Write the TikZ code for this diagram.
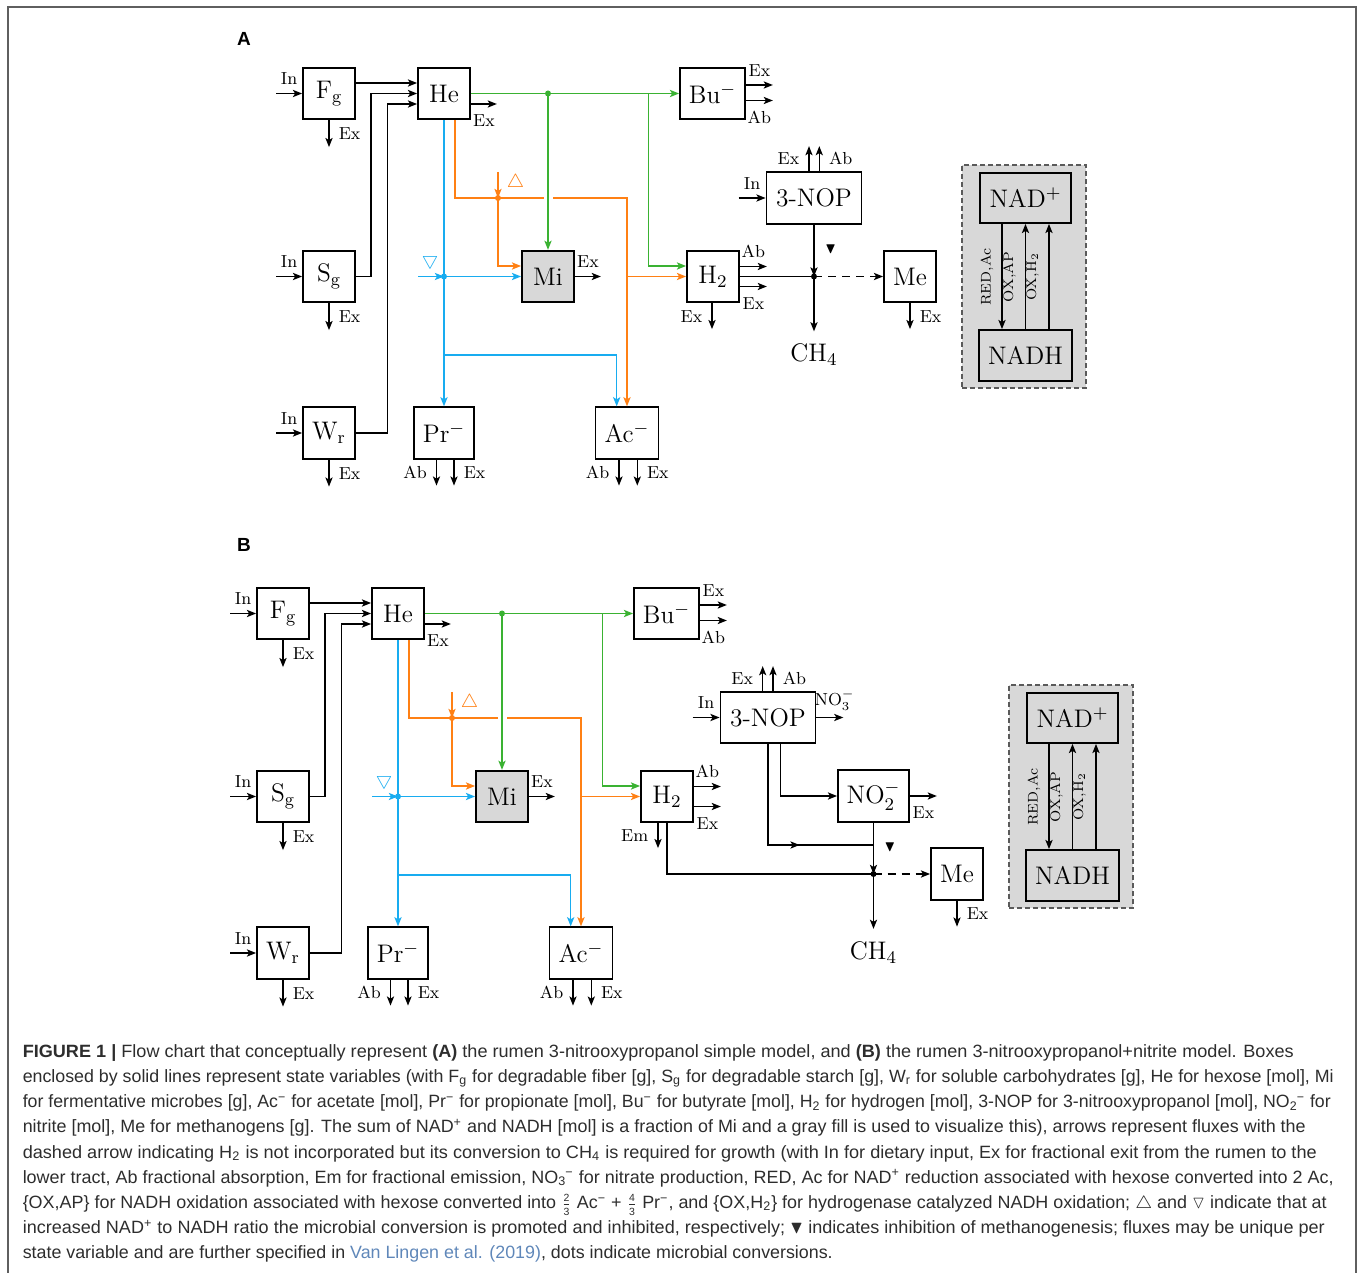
\RequirePackage{fix-cm}
\documentclass[tikz,border=0pt]{standalone}
\usepackage{graphicx}
\usepackage{amsmath,amssymb}
\usepackage{fontspec}
\newfontfamily\capfont{Liberation Sans}
\usetikzlibrary{arrows.meta,calc}
\definecolor{cgreen}{RGB}{58,178,50}
\definecolor{corange}{RGB}{255,128,20}
\definecolor{cblue}{RGB}{24,172,240}
\definecolor{cgray}{RGB}{216,216,216}
\definecolor{framegray}{RGB}{95,95,95}
\definecolor{dashgray}{RGB}{90,90,90}
\definecolor{captxt}{RGB}{45,45,45}
\definecolor{linkc}{RGB}{95,135,185}
\newcounter{labn}
\newlength\caplen
\newcommand\capfit[2]{\settowidth\caplen{#2}\pgfmathsetmacro\capsx{#1/\the\caplen}\scalebox{\capsx}[1]{#2}}
\newcommand\capss[2]{\textsubscript{#1}\kern-0.05em\textsuperscript{#2}}
\newcommand\capdig[1]{\text{\fontsize{5.2}{5.5}\selectfont #1}}
\newcommand\capfrac[2]{$\frac{\capdig{#1}}{\capdig{#2}}$}
\newcommand\capnode[4]{\node[capn] (cap#1) at (22,#2) {\capfit{#3}{#4}};}

\newcommand\leftpart[1]{%
\node[bx] (Fg#1) at (329,93.5) {F$_\mathrm{g}$};
\node[bx] (He#1) at (444,93.5) {He};
\node[bx,minimum width=32.5pt] (Bu#1) at (712.5,93.5) {Bu$^-$};
\node[bx] (Sg#1) at (329,276.5) {S$_\mathrm{g}$};
\node[bx,fill=cgray] (Mi#1) at (548,276.5) {Mi};
\node[bx] (H2#1) at (713,276.5) {H$_2$};
\node[bx] (Wr#1) at (329,433) {W$_\mathrm{r}$};
\node[bx,minimum width=30pt] (Pr#1) at (444,433) {Pr$^-$};
\node[bx,minimum width=31.5pt] (Ac#1) at (627,433) {Ac$^-$};
\draw[arr] ($(Fg#1.west)+(-26,0)$) -- node[lab,above=3.5pt]{In} (Fg#1.west);
\draw[arr] (Fg#1.south) -- node[lab,right=4pt]{Ex} ++(0,27);
\draw[arr] ($(Sg#1.west)+(-26,0)$) -- node[lab,above=3.5pt]{In} (Sg#1.west);
\draw[arr] (Sg#1.south) -- node[lab,right=4pt]{Ex} ++(0,27);
\draw[arr] ($(Wr#1.west)+(-26,0)$) -- node[lab,above=3.5pt]{In} (Wr#1.west);
\draw[arr] (Wr#1.south) -- node[lab,right=4pt]{Ex} ++(0,27);
\draw[arr] ([yshift=5.25pt]Fg#1.east) -- ([yshift=5.25pt]He#1.west);
\draw[arr] (Sg#1.east) -- ++(15,0) |- (He#1.west);
\draw[arr] (Wr#1.east) -- ++(31.5,0) |- ([yshift=-5.25pt]He#1.west);
\draw[arr] ([yshift=-5.25pt]He#1.east) -- node[lab,below=4.5pt]{Ex} ++(26,0);
\draw[arr] ([yshift=4.25pt]Bu#1.east) -- node[lab,above=3.5pt]{Ex} ++(27,0);
\draw[arr] ([yshift=-3.5pt]Bu#1.east) -- node[lab,below=4.5pt]{Ab} ++(27,0);
\draw[arr] (Mi#1.east) -- node[lab,above=3.5pt]{Ex} ++(26,0);
\draw[arr] ([yshift=5pt]H2#1.east) -- node[lab,above=3.5pt]{Ab} ++(27,0);
\draw[arr] ([yshift=-5pt]H2#1.east) -- node[lab,below=4.5pt]{Ex} ++(27,0);
\draw[arr] ([xshift=-3.75pt]Pr#1.south) -- node[lab,left=4pt]{Ab} ++(0,26);
\draw[arr] ([xshift=5pt]Pr#1.south) -- node[lab,right=4pt]{Ex} ++(0,26);
\draw[arr] ([xshift=-4pt]Ac#1.south) -- node[lab,left=4pt]{Ab} ++(0,26);
\draw[arr] ([xshift=5.15pt]Ac#1.south) -- node[lab,right=4pt]{Ex} ++(0,26);
\coordinate (gd#1) at (Mi#1.north |- He#1.east);
\coordinate (gb#1) at (648.5,93.5);
\coordinate (os#1) at ([xshift=5.5pt]He#1.south);
\coordinate (oc#1) at (627,198);
\coordinate (od#1) at (498,198);
\coordinate (xg#1) at (gd#1 |- oc#1);
\coordinate (bd#1) at (He#1.south |- Mi#1.west);
\coordinate (bb#1) at (444,355);
\draw[oarr] (os#1) |- (oc#1) -- (oc#1 |- Ac#1.north);
\draw[oarr] (od#1) |- ([yshift=5.25pt]Mi#1.west);
\draw[oarr] ([yshift=13pt]od#1) -- (od#1);
\draw[oarr] (oc#1 |- H2#1.west) -- (H2#1.west);
\node[otri] (tu#1) at (515.5,183) {$\triangle$};
\draw[barr] (He#1.south) -- (Pr#1.north);
\draw[barr] ([xshift=-13pt]bd#1) -- (bd#1);
\draw[barr] (bd#1) -- (Mi#1.west);
\draw[barr] (bb#1) -| ([xshift=-5.15pt]Ac#1.north);
\node[btri] (td#1) at (430,261) {$\bigtriangledown$};
\draw[white,line width=2.5pt] ($(xg#1)+(-4.5,0)$) -- ($(xg#1)+(4.5,0)$);
\draw[garr] (He#1.east) -- (Bu#1.west);
\draw[garr] (gd#1) -- (Mi#1.north);
\draw[garr] (gb#1) |- ([yshift=5.25pt]H2#1.west);
\fill[cgreen] (gd#1) circle[radius=1.5pt];
\fill[corange] (od#1) circle[radius=1.5pt];
\fill[cblue] (bd#1) circle[radius=1.5pt];
}

\newcommand\nadpanel[1]{%
\node[nadbg,minimum width=62pt,minimum height=111.5pt] (P#1) at (1024,276.5) {};
\node[bx,fill=cgray,minimum width=45.5pt,minimum height=25pt] (NP#1) at (1025.5,198) {NAD$^+$};
\node[bx,fill=cgray,minimum width=46.5pt,minimum height=25.5pt] (NH#1) at (1025.5,355.5) {NADH};
\coordinate (a1#1) at ([xshift=-11.75pt]NP#1.south);
\coordinate (a3#1) at ([xshift=11.75pt]NH#1.north);
\draw[arr] (a1#1) -- (a1#1 |- NH#1.north);
\draw[arr] (NH#1.north) -- (NP#1.south);
\draw[arr] (a3#1) -- (a3#1 |- NP#1.south);
\node[rot] (r1#1) at (987,277) {RED,Ac};
\node[rot] (r2#1) at (1009.5,277) {OX,AP};
\node[rot] (r3#1) at (1032.5,277) {OX,H$_2$};
}

\begin{document}
\begin{tikzpicture}[x=0.5pt,y=-0.5pt,
  >={Stealth[length=4.6pt,width=3.6pt,inset=1.1pt]},
  line width=0.75pt,
  bx/.style={draw,line width=0.9pt,inner sep=0pt,minimum width=26pt,minimum height=25.75pt,font=\fontsize{12.7}{15}\selectfont},
  big/.style={inner sep=0.5pt,font=\fontsize{12.7}{15}\selectfont},
  arr/.style={->},
  dsh/.style={->,dash pattern=on 4pt off 3pt},
  oarr/.style={->,draw=corange},
  barr/.style={->,draw=cblue},
  garr/.style={->,draw=cgreen},
  lab/.style={font=\fontsize{8.7}{10}\selectfont,inner sep=0.5pt,/utils/exec={\stepcounter{labn}},name=lab\arabic{labn}},
  otri/.style={text=corange,inner sep=0pt,font=\fontsize{9.5}{10}\selectfont},
  btri/.style={text=cblue,inner sep=0pt,font=\fontsize{9}{10}\selectfont},
  inh/.style={inner sep=0pt,font=\fontsize{7.5}{8}\selectfont},
  rot/.style={rotate=90,inner sep=0pt,font=\fontsize{7}{8}\selectfont},
  nadbg/.style={draw=dashgray,fill=cgray,dash pattern=on 2.5pt off 1.5pt,line width=0.6pt,inner sep=0pt},
  framel/.style={draw=framegray,line width=1pt},
  panellab/.style={inner sep=0pt,font=\capfont\fontsize{9.5}{11}\selectfont\bfseries},
  capn/.style={anchor=base west,inner sep=0pt,text=captxt,font=\capfont\fontsize{8.9}{10}\selectfont}]
\useasboundingbox (0,0) rectangle (1357,1273);
\draw[framel] (8,1273) -- (8,7) -- (1355.5,7) -- (1355.5,1273);
\node[panellab] (labA) at (244,38.5) {A};
\node[panellab] (labB) at (244,544.5) {B};

% ---------- panel A ----------
\leftpart{A}
\node[bx,minimum width=47.5pt,minimum height=26pt] (NOPA) at (814,198) {3-NOP};
\node[bx] (MeA) at (910,276.5) {Me};
\coordinate (JA) at (NOPA.south |- H2A.east);
\node[big,anchor=base] (CH4A) at (814,362) {CH$_4$};
\draw[arr] ([xshift=-0.5pt]H2A.south) -- node[lab,left=4pt]{Ex} ++(0,26);
\draw (H2A.east) -- (JA);
\draw[arr] (NOPA.south) -- (JA);
\draw[arr] (JA) -- ([yshift=5.5pt]CH4A.north);
\draw[dsh] (JA) -- (MeA.west);
\fill (JA) circle[radius=1.5pt];
\draw[arr] ($(NOPA.west)+(-27,0)$) -- node[lab,above=3.5pt]{In} (NOPA.west);
\draw[arr] ([xshift=-2.5pt]NOPA.north) -- node[lab,left=4pt]{Ex} ++(0,-25);
\draw[arr] ([xshift=2.65pt]NOPA.north) -- node[lab,right=4pt]{Ab} ++(0,-25);
\node[inh] (inhA) at (830.7,249) {$\blacktriangledown$};
\draw[arr] (MeA.south) -- node[lab,right=4pt]{Ex} ++(0,26);
\nadpanel{A}

% ---------- panel B ----------
\begin{scope}[shift={(-46,520)}]
\leftpart{B}
\end{scope}
\node[bx,minimum width=47.5pt,minimum height=25.5pt] (NOPB) at (768,717.5) {3-NOP};
\node[bx,minimum width=35.5pt] (NO2B) at (873.5,796) {NO$_2^-$};
\node[bx] (MeB) at (957,874) {Me};
\coordinate (JB) at (NO2B.south |- MeB.west);
\coordinate (mB) at (873.5,845);
\coordinate (nB) at (NOPB.south |- mB);
\node[big,anchor=base] (CH4B) at (873.5,959.5) {CH$_4$};
\draw[arr] ([xshift=-4.5pt]H2B.south) -- node[lab,left=4pt]{Em} ++(0,25);
\draw (H2B.south) |- (JB);
\draw[arr] ($(NOPB.west)+(-27,0)$) -- node[lab,above=3.5pt]{In} (NOPB.west);
\draw[arr] ([xshift=-2.65pt]NOPB.north) -- node[lab,left=4pt]{Ex} ++(0,-25);
\draw[arr] ([xshift=2.5pt]NOPB.north) -- node[lab,right=4pt]{Ab} ++(0,-25);
\draw[arr] (NOPB.east) -- ++(27,0);
\node[lab] at (834.7,700) {NO$_3^-$};
\draw (NOPB.south) -- (nB) -- (mB);
\draw[arr] (nB) -- ($(nB)!0.3!(mB)$);
\draw[arr] ([xshift=6.25pt]NOPB.south) |- (NO2B.west);
\draw[arr] (NO2B.east) -- node[lab,below=4.5pt]{Ex} ++(27,0);
\draw[arr] (NO2B.south) -- (JB);
\fill (JB) circle[radius=1.5pt];
\draw[arr] (JB) -- ([yshift=5.5pt]CH4B.north);
\draw[dsh] (JB) -- (MeB.west);
\node[inh] (inhB) at (890,847) {$\blacktriangledown$};
\draw[arr] (MeB.south) -- node[lab,right=4pt]{Ex} ++(0,26);
\begin{scope}[shift={(47,520)}]
\nadpanel{B}
\end{scope}

% ---------- caption ----------
\capnode{1}{1057.5}{635.5}{\textbf{FIGURE 1 |} Flow chart that conceptually represent \textbf{(A)} the rumen 3-nitrooxypropanol simple model, and \textbf{(B)} the rumen 3-nitrooxypropanol+nitrite model. Boxes}
\capnode{2}{1082.65}{655.5}{enclosed by solid lines represent state variables (with F\textsubscript{g} for degradable fiber [g], S\textsubscript{g} for degradable starch [g], W\textsubscript{r} for soluble carbohydrates [g], He for hexose [mol], Mi}
\capnode{3}{1107.8}{654}{for fermentative microbes [g], Ac\textsuperscript{−} for acetate [mol], Pr\textsuperscript{−} for propionate [mol], Bu\textsuperscript{−} for butyrate [mol], H\textsubscript{2} for hydrogen [mol], 3-NOP for 3-nitrooxypropanol [mol], NO\capss{2}{−} for}
\capnode{4}{1132.95}{641.5}{nitrite [mol], Me for methanogens [g]. The sum of NAD\textsuperscript{+} and NADH [mol] is a fraction of Mi and a gray fill is used to visualize this), arrows represent fluxes with the}
\capnode{5}{1158.1}{647}{dashed arrow indicating H\textsubscript{2} is not incorporated but its conversion to CH\textsubscript{4} is required for growth (with In for dietary input, Ex for fractional exit from the rumen to the}
\capnode{6}{1183.25}{655.5}{lower tract, Ab fractional absorption, Em for fractional emission, NO\capss{3}{−} for nitrate production, RED, Ac for NAD\textsuperscript{+} reduction associated with hexose converted into 2 Ac,}
\capnode{7}{1208.4}{652}{\{OX,AP\} for NADH oxidation associated with hexose converted into \capfrac{2}{3} Ac\textsuperscript{−} + \capfrac{4}{3} Pr\textsuperscript{−}, and \{OX,H\textsubscript{2}\} for hydrogenase catalyzed NADH oxidation; $\triangle$ and $\triangledown$ indicate that at}
\capnode{8}{1233.55}{651}{increased NAD\textsuperscript{+} to NADH ratio the microbial conversion is promoted and inhibited, respectively; $\blacktriangledown$ indicates inhibition of methanogenesis; fluxes may be unique per}
\capnode{9}{1258.7}{405}{state variable and are further specified in \textcolor{linkc}{Van Lingen et al. (2019)}, dots indicate microbial conversions.}
\end{tikzpicture}
\end{document}
